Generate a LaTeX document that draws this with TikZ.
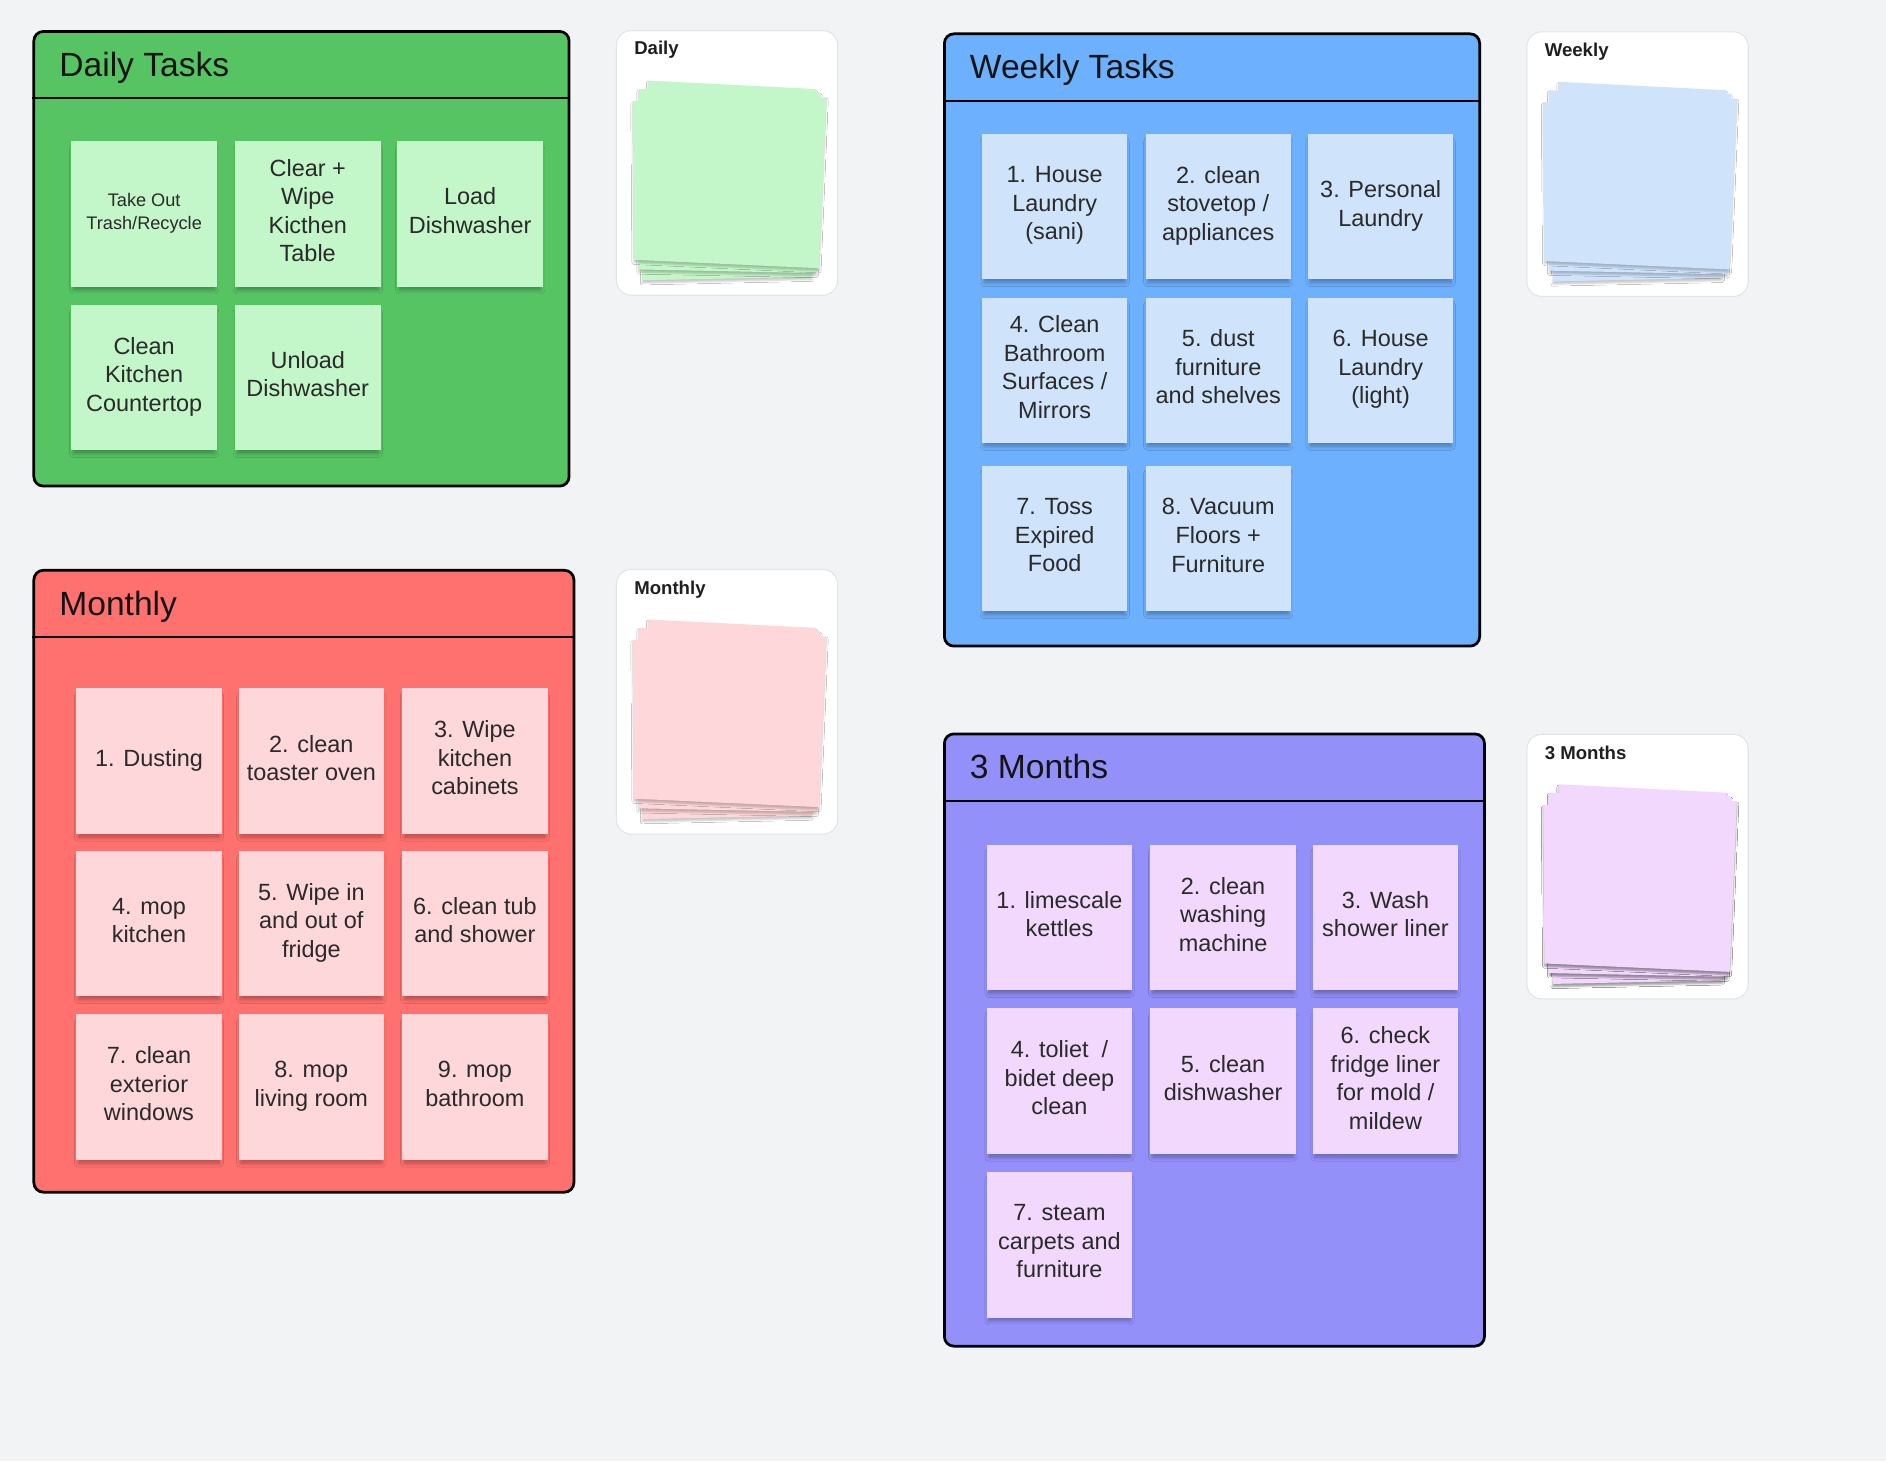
\documentclass[tikz,border=0pt]{standalone}
\usepackage{fontspec}
\setmainfont{Liberation Sans}
\usetikzlibrary{positioning,shadows.blur}
\definecolor{canvas}{HTML}{F2F3F5}
\definecolor{dailyframe}{HTML}{57C464}
\definecolor{dailynote}{HTML}{C3F6C8}
\definecolor{weekframe}{HTML}{6DB0FE}
\definecolor{weeknote}{HTML}{CFE3FB}
\definecolor{monthframe}{HTML}{FF716E}
\definecolor{monthnote}{HTML}{FDD7D9}
\definecolor{qframe}{HTML}{9490F9}
\definecolor{qnote}{HTML}{F1D8FC}
\definecolor{inktext}{HTML}{2A2A2A}
\definecolor{cardline}{HTML}{E2E4E8}
\newcommand{\px}{0.02cm}
\tikzset{
  % --- big task boards ---
  board/.style={draw=black, line width=1.3pt, rounded corners=4.5pt,
                anchor=north west, inner sep=0pt},
  boardhead/.style={anchor=north west, inner sep=0pt, minimum height=56*\px,
                    text depth=0pt,
                    font=\fontsize{15.9}{19}\selectfont, text=black!92},
  headline/.style={draw=black, line width=1.1pt},
  % --- sticky notes ---
  note/.style={anchor=north west, minimum width=121*\px, minimum height=121*\px,
               inner sep=0pt, align=center, text=inktext, text depth=3.2pt,
               font=\fontsize{11.1}{13.5}\selectfont,
               blur shadow={shadow xshift=0pt, shadow yshift=-2.6pt,
                            shadow blur radius=2pt, shadow opacity=30,
                            shadow scale=0.97}},
  dnote/.style={note, fill=dailynote},
  wnote/.style={note, fill=weeknote},
  mnote/.style={note, fill=monthnote},
  qnote/.style={note, fill=qnote},
  % --- preview cards ---
  card/.style={anchor=north west, fill=white, draw=cardline, line width=0.5pt,
               rounded corners=7pt, minimum width=184*\px, minimum height=220*\px,
               inner sep=0pt},
  cardlabel/.style={anchor=west, inner sep=0pt, text=black!88, text depth=0pt,
                    font=\fontsize{8.8}{10}\selectfont\bfseries},
  sheet/.style={blur shadow={shadow xshift=0pt, shadow yshift=-1.3pt,
                             shadow blur radius=0.9pt, shadow opacity=22}},
}
\newcommand{\notepile}[2]{%
  \begin{scope}[shift={(#1.north west)}]
    \fill[#2, sheet] (27,42) -- (166,49) -- (163,205) -- (22,208) -- cycle;
    \fill[#2, sheet] (19,49) -- (170,52) -- (167,202) -- (19,199) -- cycle;
    \fill[#2, sheet] (14,59) -- (175,56) -- (169,198) -- (15,191) -- cycle;
  \end{scope}}

\begin{document}
\begin{tikzpicture}[x=\px, y=-\px]
  \fill[canvas] (0,0) rectangle (1568,1215);

  % --- Daily Tasks ---
  \node[board, fill=dailyframe, minimum width=445*\px, minimum height=378*\px] (dframe) at (27,25) {};
  \node[boardhead] (dhead) at (49,25) {Daily Tasks};
  \draw[headline] (dframe.west |- dhead.south) -- (dframe.east |- dhead.south);
  \node[dnote, font=\fontsize{8.6}{10.8}\selectfont, text depth=2.4pt] (d1) at (59,117) {Take Out\\Trash/Recycle};
  \node[dnote] (d2) at (195,117) {Clear +\\Wipe\\Kicthen\\Table};
  \node[dnote] (d3) at (330,117) {Load\\Dishwasher};
  \node[dnote] (d4) at (59,253)  {Clean\\Kitchen\\Countertop};
  \node[dnote] (d5) at (195,253) {Unload\\Dishwasher};

  % --- Weekly Tasks ---
  \node[board, fill=weekframe, minimum width=445*\px, minimum height=509*\px] (wframe) at (784,27) {};
  \node[boardhead] (whead) at (806,27) {Weekly Tasks};
  \draw[headline] (wframe.west |- whead.south) -- (wframe.east |- whead.south);
  \node[wnote] (w1) at (816,111)  {1. House\\Laundry\\(sani)};
  \node[wnote] (w2) at (952,111)  {2. clean\\stovetop /\\appliances};
  \node[wnote] (w3) at (1087,111) {3. Personal\\Laundry};
  \node[wnote] (w4) at (816,247)  {4. Clean\\Bathroom\\Surfaces /\\Mirrors};
  \node[wnote] (w5) at (952,247)  {5. dust\\furniture\\and shelves};
  \node[wnote] (w6) at (1087,247) {6. House\\Laundry\\(light)};
  \node[wnote] (w7) at (816,387)  {7. Toss\\Expired\\Food};
  \node[wnote] (w8) at (952,387)  {8. Vacuum\\Floors +\\Furniture};

  % --- Monthly ---
  \node[board, fill=monthframe, minimum width=449*\px, minimum height=517*\px] (mframe) at (27,473) {};
  \node[boardhead] (mhead) at (49,473) {Monthly};
  \draw[headline] (mframe.west |- mhead.south) -- (mframe.east |- mhead.south);
  \node[mnote] (m1) at (63,572)  {1. Dusting};
  \node[mnote] (m2) at (198,572) {2. clean\\toaster oven};
  \node[mnote] (m3) at (334,572) {3. Wipe\\kitchen\\cabinets};
  \node[mnote] (m4) at (63,707)  {4. mop\\kitchen};
  \node[mnote] (m5) at (198,707) {5. Wipe in\\and out of\\fridge};
  \node[mnote] (m6) at (334,707) {6. clean tub\\and shower};
  \node[mnote] (m7) at (63,843)  {7. clean\\exterior\\windows};
  \node[mnote] (m8) at (198,843) {8. mop\\living room};
  \node[mnote] (m9) at (334,843) {9. mop\\bathroom};

  % --- 3 Months ---
  \node[board, fill=qframe, minimum width=449*\px, minimum height=509*\px] (qframe) at (784,609) {};
  \node[boardhead] (qhead) at (806,609) {3 Months};
  \draw[headline] (qframe.west |- qhead.south) -- (qframe.east |- qhead.south);
  \node[qnote] (q1) at (820,702)  {1. limescale\\kettles};
  \node[qnote] (q2) at (956,702)  {2. clean\\washing\\machine};
  \node[qnote] (q3) at (1091,702) {3. Wash\\shower liner};
  \node[qnote] (q4) at (820,838)  {4. toliet \ /\\bidet deep\\clean};
  \node[qnote] (q5) at (956,838)  {5. clean\\dishwasher};
  \node[qnote] (q6) at (1091,838) {6. check\\fridge liner\\for mold /\\mildew};
  \node[qnote] (q7) at (820,974)  {7. steam\\carpets and\\furniture};

  % --- preview cards ---
  \node[card] (dcard) at (512,25) {};
  \node[cardlabel] (dlabel) at ([xshift=15*\px, yshift=-15*\px]dcard.north west) {Daily};
  \notepile{dcard}{dailynote}
  \node[card] (wcard) at (1269,26) {};
  \node[cardlabel] (wlabel) at ([xshift=15*\px, yshift=-15*\px]wcard.north west) {Weekly};
  \notepile{wcard}{weeknote}
  \node[card] (mcard) at (512,473) {};
  \node[cardlabel] (mlabel) at ([xshift=15*\px, yshift=-16*\px]mcard.north west) {Monthly};
  \notepile{mcard}{monthnote}
  \node[card] (qcard) at (1269,610) {};
  \node[cardlabel] (qlabel) at ([xshift=15*\px, yshift=-16*\px]qcard.north west) {3 Months};
  \notepile{qcard}{qnote}
\end{tikzpicture}
\end{document}
